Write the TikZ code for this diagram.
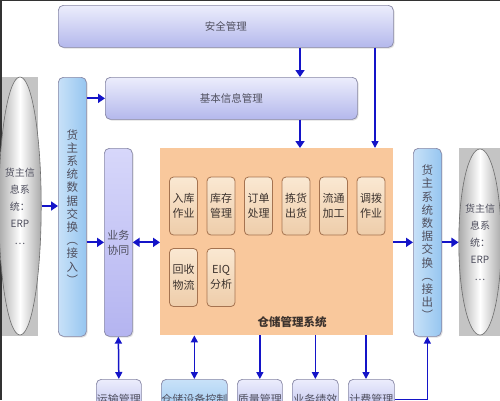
\documentclass[tikz,border=0pt]{standalone}
\usepackage{fontspec}
\setmainfont{Noto Sans CJK SC}
\usetikzlibrary{shapes.geometric,arrows.meta,shadows}
\definecolor{arrblue}{RGB}{20,20,200}
\definecolor{lavtop}{RGB}{236,237,252}
\definecolor{lavbot}{RGB}{180,184,236}
\definecolor{lavborder}{RGB}{135,135,165}
\definecolor{blul}{RGB}{200,225,248}
\definecolor{blur}{RGB}{150,198,240}
\definecolor{cotop}{RGB}{215,215,250}
\definecolor{cobot}{RGB}{180,180,240}
\definecolor{orangefill}{RGB}{249,200,156}
\definecolor{innertop}{RGB}{250,232,210}
\definecolor{innerbot}{RGB}{238,205,170}
\definecolor{innerborder}{RGB}{165,115,80}
\definecolor{txtgray}{RGB}{80,80,95}
\definecolor{txtdark}{RGB}{60,50,45}
\definecolor{graybg}{RGB}{196,196,196}
\definecolor{ellgray}{RGB}{170,170,170}
\definecolor{ellline}{RGB}{110,110,110}
\begin{document}
\begin{tikzpicture}[x=1pt,y=-1pt,
  lav/.style={draw=lavborder, line width=0.7pt, rounded corners=5pt, top color=lavtop, bottom color=lavbot,
    text=txtgray, font=\fontsize{10.5}{12}\selectfont, inner sep=0pt, anchor=north west,
    drop shadow={opacity=0.25, shadow xshift=1.2pt, shadow yshift=-1.2pt}},
  blu/.style={draw=lavborder, line width=0.7pt, rounded corners=5pt, left color=blul, right color=blur,
    text=txtgray, inner sep=0pt, anchor=north west, align=center,
    drop shadow={opacity=0.25, shadow xshift=1.2pt, shadow yshift=-1.2pt}},
  cobox/.style={draw=lavborder, line width=0.7pt, rounded corners=5pt, top color=cotop, bottom color=cobot,
    text=txtgray, inner sep=0pt, anchor=north west, align=center,
    drop shadow={opacity=0.25, shadow xshift=1.2pt, shadow yshift=-1.2pt}},
  vtext/.style={font=\fontsize{11.5}{13.2}\selectfont},
  inner/.style={draw=innerborder, line width=0.8pt, rounded corners=4pt, top color=innertop, bottom color=innerbot,
    minimum width=28pt, minimum height=58pt, inner sep=0pt, align=center, text=txtdark,
    font=\fontsize{11}{15.5}\selectfont},
  ell/.style={ellipse, draw=ellline, line width=0.6pt, left color=ellgray, right color=ellgray, middle color=white,
    inner sep=0pt, align=center, text=txtgray, font=\fontsize{10}{17}\selectfont},
  bot/.style={draw=lavborder, line width=0.7pt, rounded corners=5pt, top color=lavtop, bottom color=lavbot,
    text=txtgray, font=\fontsize{11}{12}\selectfont, inner sep=0pt, anchor=north west, minimum height=40pt},
  botb/.style={bot, top color=blul, bottom color=blur},
  arr/.style={draw=arrblue, line width=2.2pt, -{Triangle[length=7pt,width=9pt]}},
  darr/.style={draw=arrblue, line width=2.2pt, {Triangle[length=7pt,width=9pt]}-{Triangle[length=7pt,width=9pt]}},
  tarr/.style={draw=arrblue, line width=1.5pt, -{Triangle[length=7pt,width=7pt]}},
  tdarr/.style={draw=arrblue, line width=1.5pt, {Triangle[length=7pt,width=7pt]}-{Triangle[length=7pt,width=7pt]}}
]
\useasboundingbox (0,0) rectangle (500,400);
\fill[white] (0,0) rectangle (500,400);
% frame lines
\fill[black!80] (0,0) rectangle (500,1.2);
\fill[black!80] (0,0) rectangle (1.5,400);

% gray backgrounds of the ellipses
\fill[graybg] (1.5,77) rectangle (38,336);
\fill[graybg] (459,148) rectangle (500,336);
\node[ell, minimum width=32pt, minimum height=258pt] (lell) at (20,206) {货主信\\息系\\统：\\ERP\\…};
\node[ell, minimum width=34pt, minimum height=186pt] (rell) at (480,242) {货主信\\息系\\统：\\ERP\\…};

% top boxes
\node[lav, minimum width=335pt, minimum height=42pt] (safe) at (58,5) {安全管理};
\node[lav, minimum width=252pt, minimum height=42pt] (basic) at (105,77) {基本信息管理};

% vertical boxes
\node[blu, minimum width=28pt, minimum height=259pt, vtext] (in) at (58,77)
  {货\\主\\系\\统\\数\\据\\交\\换\\︵\\接\\入\\︶};
\node[cobox, minimum width=28pt, minimum height=188pt, font=\fontsize{11}{15}\selectfont] (co) at (104,148) {业务\\协同};
\node[blu, minimum width=28pt, minimum height=188pt, vtext] (out) at (413,148)
  {货\\主\\系\\统\\数\\据\\交\\换\\︵\\接\\出\\︶};

% warehouse management system
\node[fill=orangefill, anchor=north west, minimum width=233pt, minimum height=187pt, inner sep=0pt] (wms) at (160,148) {};
\node[font=\fontsize{11.5}{12}\selectfont\bfseries, text=txtdark] (wmst) at (292,322) {仓储管理系统};

\node[inner] (i1) at (183.5,206) {入库\\作业};
\node[inner] (i2) at (221,206) {库存\\管理};
\node[inner] (i3) at (258.5,206) {订单\\处理};
\node[inner] (i4) at (296,206) {拣货\\出货};
\node[inner] (i5) at (333.5,206) {流通\\加工};
\node[inner] (i6) at (371,206) {调拨\\作业};
\node[inner] (i7) at (183.5,277.5) {回收\\物流};
\node[inner] (i8) at (221,277.5) {EIQ\\分析};

% bottom boxes
\node[bot, minimum width=45pt] (b1) at (96,379) {运输管理};
\node[botb, minimum width=65pt] (b2) at (161,379) {仓储设备控制};
\node[bot, minimum width=45pt] (b3) at (237,379) {质量管理};
\node[bot, minimum width=46pt] (b4) at (292,379) {业务绩效};
\node[bot, minimum width=46pt] (b5) at (348,379) {计费管理};

% helper coordinates
\coordinate (c1) at (300,0);
\coordinate (c2) at (375,0);
\coordinate (c3) at (366,0);

% connectors
\draw[arr] (lell.east) -- (in.west |- lell.east);
\draw[arr] (in.east |- basic) -- (basic.west);
\draw[arr] (in.east |- co) -- (co.west);
\draw[darr] (co.east) -- (wms.west |- co);
\draw[arr] (wms.east |- out) -- (out.west);
\draw[arr] (out.east) -- (rell.west |- out.east);
\draw[arr] (safe.south -| c1) -- (basic.north -| c1);
\draw[tarr] (safe.south -| c2) -- (wms.north -| c2);
\draw[arr] (basic.south -| c1) -- (wms.north -| c1);

\draw[tdarr] (co.south) -- (b1.north);
\draw[tdarr] (wms.south -| b2) -- (b2.north);
\draw[tarr] (wms.south -| b3) -- (b3.north);
\draw[tarr] (wms.south -| b4) -- (b4.north);
\draw[tarr] (wms.south -| c3) -- (b5.north -| c3);
\draw[tarr] (b5.east) -| (out.south);
\end{tikzpicture}
\end{document}
